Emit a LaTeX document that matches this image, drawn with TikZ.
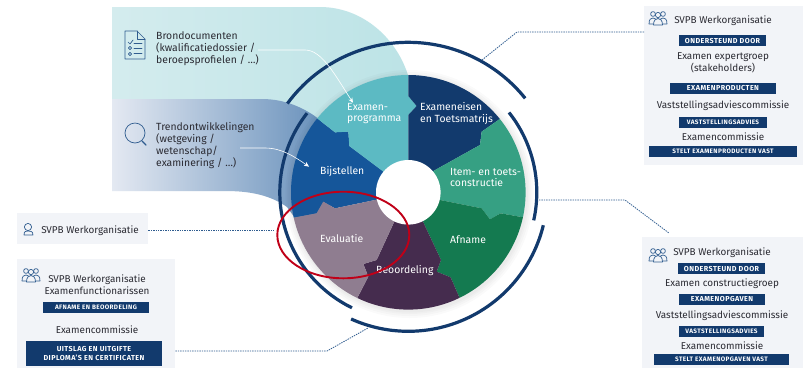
\documentclass[tikz,border=0pt]{standalone}
\usepackage{fontspec}
\setmainfont{Fira Sans}
\usetikzlibrary{arrows.meta}
\definecolor{navy}{HTML}{123A6D}
\definecolor{panelbg}{HTML}{F2F4F8}
\definecolor{iconblue}{HTML}{2F5C8F}
\definecolor{segteal}{HTML}{5CBAC3}
\definecolor{segnavy}{HTML}{123A6D}
\definecolor{seggreen}{HTML}{36A083}
\definecolor{segdark}{HTML}{147A50}
\definecolor{segplum}{HTML}{452C4E}
\definecolor{segmauve}{HTML}{8F7D90}
\definecolor{segblue}{HTML}{15569A}
\definecolor{redring}{HTML}{C00018}
\definecolor{inktxt}{HTML}{2B2B33}
\definecolor{tealL}{HTML}{D4ECEE}
\definecolor{tealR}{HTML}{BCE3E6}
\definecolor{blueL}{HTML}{E4E9F2}
\definecolor{blueR}{HTML}{5885B4}
\newcommand{\txtsize}{\fontsize{9.9}{11.8}\selectfont}
\newcommand{\srcsize}{\fontsize{10.4}{11.8}\selectfont}
\newcommand{\barsize}{\fontsize{7.2}{8.6}\selectfont\bfseries\addfontfeature{LetterSpace=6}}
\newcommand{\barsmall}{\fontsize{6.4}{8.6}\selectfont\bfseries\addfontfeature{LetterSpace=6}}
\tikzset{
  txt/.style={font=\txtsize,text=inktxt,inner sep=0pt,align=center},
  ltxt/.style={font=\srcsize,text=inktxt,inner sep=0pt,align=left,anchor=west},
  wtxt/.style={font=\srcsize,text=white,inner sep=0pt,align=left,anchor=west},
  barbox/.style={fill=navy,text=white,font=\barsize,inner sep=0pt,align=center,minimum height=11pt},
  barsm/.style={barbox,font=\barsmall},
  panel/.style={fill=panelbg,inner sep=0pt,anchor=north west},
  dotline/.style={draw=iconblue,line width=.8pt,dash pattern=on 1.4pt off 1pt},
  ringarc/.style={draw=navy,line width=3.2pt},
  wharrow/.style={draw=white,line width=.6pt,-{Stealth[length=5pt,width=4.5pt]}},
  icon/.style={draw=iconblue,line width=.7pt,line join=round,line cap=round},
  people/.pic={
    \draw[icon,fill=panelbg] (0,13) .. controls (0,8) and (2,7) .. (4,7) .. controls (6,7) and (8,8) .. (8,13) -- cycle;
    \draw[icon,fill=panelbg] (10,13) .. controls (10,8) and (12,7) .. (14,7) .. controls (16,7) and (18,8) .. (18,13) -- cycle;
    \draw[icon,fill=panelbg] (4,3) circle[radius=2.4pt];
    \draw[icon,fill=panelbg] (14,3) circle[radius=2.4pt];
    \draw[icon,fill=panelbg] (4.5,14) .. controls (4.5,9) and (7,7.5) .. (9,7.5) .. controls (11,7.5) and (13.5,9) .. (13.5,14) -- cycle;
    \draw[icon,fill=panelbg] (9,4) circle[radius=2.6pt];
  },
}
\begin{document}
\begin{tikzpicture}[x=1pt,y=-1pt]
\useasboundingbox (0,0) rectangle (803,368);
\fill[white] (0,0) rectangle (803,368);
% background bands
\shade[left color=tealL,right color=tealR]
  (112,7) -- (320,7) .. controls (360,7) and (395,35) .. (408,75) -- (408,192) -- (300,192) -- (112,110) -- cycle;
\shade[left color=blueL,right color=blueR]
  (112,99) -- (262,99) .. controls (285,99) and (305,108) .. (320,120) -- (350,192) -- (300,225) -- (287,207) .. controls (270,195) and (250,191) .. (225,191) -- (112,191) -- cycle;
% wheel shadow
\foreach \r in {124,122,120,118.5}
  \fill[black,opacity=.02] (409.5,194) circle[radius=\r pt];
% wheel
\begin{scope}
\clip (408.3,192.3) circle[radius=117.3pt];
\begin{scope}[shift={(260,60)},x=.3333pt,y=-.3333pt]
\fill[segblue] (445,397)--(345,420)--(225,445)--(190,425)--(170,460)--(102,473)--(0,490)--(0,120)--(100,120)--(165,170)--(225,217)--(265,215)--(268,258)--(368,333)--cycle;
\fill[segteal] (445,397)--(445,165)--(470,138)--(445,108)--(445,0)--(100,0)--(100,120)--(165,170)--(225,217)--(265,215)--(268,258)--(368,333)--cycle;
\fill[segnavy] (445,397)--(445,165)--(470,138)--(445,108)--(445,0)--(800,0)--(800,125)--(718,178)--(665,215)--(660,255)--(520,333)--cycle;
\fill[seggreen] (445,397)--(520,333)--(660,255)--(665,215)--(718,178)--(800,125)--(900,125)--(900,490)--(790,472)--(722,460)--(690,478)--(665,445)--(540,420)--cycle;
\fill[segdark] (445,397)--(540,420)--(665,445)--(690,478)--(722,460)--(790,472)--(900,490)--(900,900)--(650,820)--(598,712)--(572,652)--(530,635)--(543,600)--(490,487)--cycle;
\fill[segplum] (445,397)--(490,487)--(543,600)--(530,635)--(572,652)--(598,712)--(650,820)--(250,820)--(293,712)--(325,650)--(310,612)--(350,600)--(402,487)--cycle;
\fill[segmauve] (445,397)--(402,487)--(350,600)--(310,612)--(325,650)--(293,712)--(250,820)--(0,820)--(0,490)--(102,473)--(170,460)--(190,425)--(225,445)--(345,420)--cycle;
\end{scope}
\end{scope}
\fill[white] (408.3,192.3) circle[radius=32.3pt];
% ring arcs
\begin{scope}[shift={(408.3,192.3)},y=1pt]
\draw[ringarc] (143.7:150pt) arc[start angle=143.7,end angle=38.8,radius=150pt];
\draw[ringarc] (38.4:128.5pt) arc[start angle=38.4,end angle=-12.6,radius=128.5pt];
\draw[ringarc] (-13.7:139pt) arc[start angle=-13.7,end angle=-114.3,radius=139pt];
\draw[ringarc] (142:128.5pt) arc[start angle=142,end angle=244,radius=128.5pt];
\end{scope}
% wheel labels
\node[wtxt] (lprog) at (347,113.5) {Examen-\\programma};
\node[wtxt] (leis) at (420,113.5) {Exameneisen\\en Toetsmatrijs};
\node[wtxt] (litem) at (450,177.5) {Item- en toets-\\constructie};
\node[wtxt] (lafn) at (450,240) {Afname};
\node[wtxt] (lbijs) at (320,172) {Bijstellen};
\node[wtxt] (leval) at (320,238) {Evaluatie};
\node[wtxt] (lbeo) at (376,271) {Beoordeling};
% source texts
\node[ltxt] (tbron) at (156,49) {Brondocumenten\\(kwalificatiedossier /\\beroepsprofielen / \ldots)};
\node[ltxt] (ttrend) at (156,145.5) {Trendontwikkelingen\\(wetgeving /\\wetenschap/\\examinering / \ldots)};
\coordinate (abron) at (258,50);
\coordinate (atrend) at (240,148);
\draw[wharrow] (abron) -- (305,50) .. controls (322,50) and (335,75) .. (lprog.north west -| 353,97);
\draw[wharrow] (atrend) -- (265,148) .. controls (282,148) and (295,157) .. (lbijs.north west -| 309,163);
% doc icon
\draw[icon] (125,31) -- (137,31) -- (145,39) -- (145,59) -- (125,59) -- cycle;
\draw[icon] (137,31) -- (137,39) -- (145,39);
\draw[icon] (128,42) -- (130,44) -- (133,40);
\draw[icon] (134,43) -- (142,43) (134,48) -- (142,48) (134,53) -- (142,53);
\draw[icon] (130,48) circle[radius=1.6pt] (130,54) circle[radius=1.6pt];
% magnifier icon
\draw[icon] (135,133) circle[radius=10pt];
\draw[icon,line width=1.4pt] (142,141) -- (146,145);
% panels
\node[panel,minimum width=159pt,minimum height=159pt] (ptr) at (644,6) {};
\node[panel,minimum width=161pt,minimum height=131pt] (pbr) at (642,237) {};
\node[panel,minimum width=131pt,minimum height=31pt] (ptl) at (17,213) {};
\node[panel,minimum width=158pt,minimum height=109pt] (pbl) at (17,259) {};
% connectors
\coordinate (b1) at (517,32); \coordinate (e1) at (482,60);
\coordinate (b2) at (625,200); \coordinate (s2) at (539,200); \coordinate (e2) at (669,233);
\coordinate (e3) at (274,230);
\coordinate (b4a) at (327,351); \coordinate (e4) at (368,328);
\draw[dotline] (ptr.west |- b1) -- (b1) -- (e1);
\draw[dotline] (s2) -- (b2) -- (e2);
\draw[dotline] (ptl.east |- e3) -- (e3);
\draw[dotline] (pbl.east |- b4a) -- (b4a) -- (e4);
% top right panel
\pic at (649,11) {people};
\node[txt] (a1) at (723,21) {SVPB Werkorganisatie};
\node[barbox,minimum width=87pt] (a2) at (722.5,40.5) {ONDERSTEUND DOOR};
\node[txt] (a3) at (723,63) {Examen expertgroep\\(stakeholders)};
\node[barbox,minimum width=106pt] (a4) at (723,88) {EXAMENPRODUCTEN};
\node[txt] (a5) at (723,106) {Vaststellingsadviescommissie};
\node[barsm,minimum width=88pt] (a6) at (723,122) {VASTSTELLINGSADVIES};
\node[txt] (a7) at (723,137) {Examencommissie};
\node[barsm,minimum width=148pt] (a8) at (723,151.5) {STELT EXAMENPRODUCTEN VAST};
% bottom right panel
\pic at (649,248) {people};
\node[txt] (b1n) at (722,253) {SVPB Werkorganisatie};
\node[barbox,minimum width=87pt] (b2n) at (721.5,268.5) {ONDERSTEUND DOOR};
\node[txt] (b3n) at (722,284) {Examen constructiegroep};
\node[barbox,minimum width=86pt] (b4n) at (722,299) {EXAMENOPGAVEN};
\node[txt] (b5n) at (722,316) {Vaststellingsadviescommissie};
\node[barsm,minimum width=85pt] (b6n) at (721.5,331.5) {VASTSTELLINGSADVIES};
\node[txt] (b7n) at (722,346) {Examencommissie};
\node[barsm,minimum width=135pt] (b8n) at (721.5,359.5) {STELT EXAMENOPGAVEN VAST};
% left panels
\draw[icon] (28,227) circle[radius=3.6pt];
\draw[icon] (24,235) .. controls (24,231) and (26,231) .. (28,231) .. controls (30,231) and (33,231) .. (33,235) -- cycle;
\node[txt] (c1) at (90,231) {SVPB Werkorganisatie};
\pic at (22,268) {people};
\node[txt] (d1) at (97,285) {SVPB Werkorganisatie\\Examenfunctionarissen};
\node[barsm,minimum width=106pt] (d2) at (96,307.5) {AFNAME EN BEOORDELING};
\node[txt] (d3) at (97,330) {Examencommissie};
\node[barbox,minimum width=136pt,minimum height=25pt] (d4) at (94,353.5) {UITSLAG EN UITGIFTE\\DIPLOMA'S EN CERTIFICATEN};
% red ellipse
\draw[draw=redring,line width=1.9pt] (343.3,235) ellipse[x radius=66pt,y radius=43.3pt];
\end{tikzpicture}
\end{document}
